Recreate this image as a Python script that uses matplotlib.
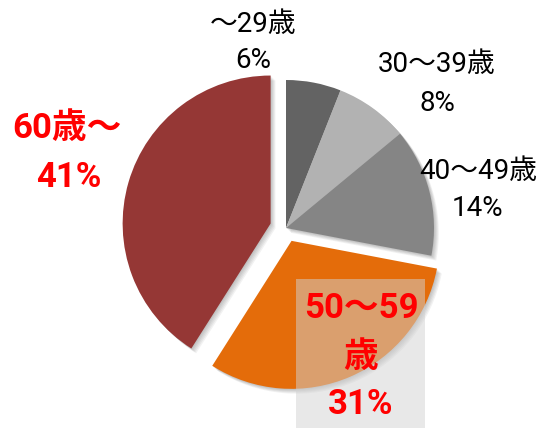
import matplotlib.pyplot as plt
from matplotlib.patches import Shadow, Rectangle

# =========================================================
# DATA
# =========================================================
age_groups = ['～29歳', '30～39歳', '40～49歳', '50～59\n歳', '60歳～']
shares = [6, 8, 14, 31, 41]
slice_colors = ['#636363', '#b2b2b2', '#858585', '#e46c0a', '#953735']
explode = [0, 0, 0, 14, 16]   # pixel offsets (axes are in pixel units)

fonts = ['Roboto', 'Noto Sans CJK JP', 'DejaVu Sans']

# =========================================================
# FIGURE (axes in pixel units, y up)
# =========================================================
fig = plt.figure(figsize=(5.37, 4.28), dpi=100)
ax = fig.add_axes([0, 0, 1, 1])

wedges, _ = ax.pie(
    shares,
    colors=slice_colors,
    startangle=90,
    counterclock=False,
    explode=explode,
    center=(286, 200),
    radius=148,
    wedgeprops=dict(linewidth=0)
)

# soft drop shadow
for w in wedges:
    w.set_zorder(2)
    for k in range(1, 6):
        s = Shadow(w, k * 0.7, -k * 0.7, facecolor='black',
                   edgecolor='none', alpha=0.05, zorder=1)
        ax.add_patch(s)

ax.set_xlim(0, 537)
ax.set_ylim(0, 428)
ax.set_aspect('equal')
ax.axis('off')

# =========================================================
# LABELS
# =========================================================
black_pos = [(253, 404, 368), (437, 364, 325), (478, 257, 220)]
for (x, y1, y2), name, val in zip(black_pos, age_groups[:3], shares[:3]):
    ax.text(x, y1, name, ha='center', va='center', fontsize=20,
            family=fonts, color='black', zorder=5)
    ax.text(x, y2, f'{val}%', ha='center', va='center', fontsize=20,
            family=fonts, color='black', zorder=5)

# highlighted box behind 50～59
ax.add_patch(Rectangle((296, 0), 129, 149, facecolor='#d2d2d2',
                       edgecolor='none', alpha=0.5, zorder=4))

ax.text(361, 120, '50～59', ha='center', va='center', fontsize=25,
        family=fonts, color='red', fontweight='bold', zorder=5)
ax.text(361, 71, '歳', ha='center', va='center', fontsize=25,
        family=fonts, color='red', fontweight='bold', zorder=5)
ax.text(361, 23, f'{shares[3]}%', ha='center', va='center', fontsize=25,
        family=fonts, color='red', fontweight='bold', zorder=5)

ax.text(67, 300, age_groups[4], ha='center', va='center', fontsize=25,
        family=fonts, color='red', fontweight='bold', zorder=5)
ax.text(69, 251, f'{shares[4]}%', ha='center', va='center', fontsize=25,
        family=fonts, color='red', fontweight='bold', zorder=5)

plt.savefig('out.png', dpi=100)
plt.close()
